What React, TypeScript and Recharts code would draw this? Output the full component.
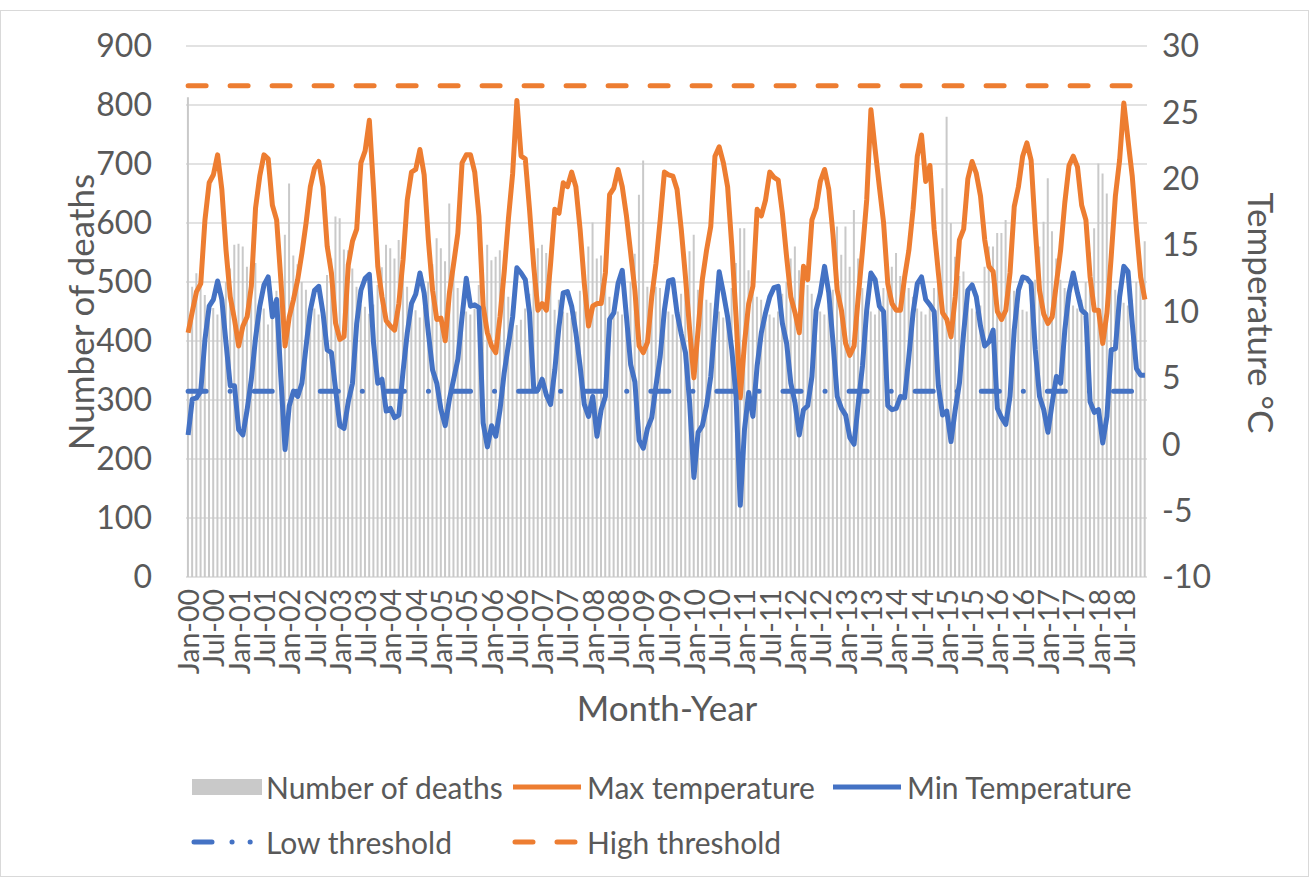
import React from "react";
import {
  ComposedChart,
  Bar,
  Line,
  XAxis,
  YAxis,
  CartesianGrid,
  Label,
} from "recharts";

const FONT = "Lato, 'Open Sans', sans-serif";
const TEXT = "#595959";
const GRID = "#D9D9D9";
const ORANGE = "#ED7D31";
const BLUE = "#4472C4";
const GREY = "#C9C9C9";
const LINE_W = 5;

const monthNames = ["Jan", "Feb", "Mar", "Apr", "May", "Jun", "Jul", "Aug", "Sep", "Oct", "Nov", "Dec"];
const yearLabels = ["00", "01", "02", "03", "04", "05", "06", "07", "08", "09", "10", "11", "12", "13", "14", "15", "16", "17", "18"];

// one row per year, Jan..Dec
const deaths = [
  813, 492, 515, 500, 478, 444, 456, 445, 460, 500, 523, 563,
  565, 560, 526, 505, 532, 470, 455, 428, 450, 485, 520, 580,
  667, 545, 530, 500, 487, 460, 455, 445, 460, 512, 540, 611,
  608, 555, 554, 523, 492, 462, 458, 446, 462, 495, 525, 563,
  557, 540, 571, 510, 492, 455, 452, 440, 458, 500, 530, 574,
  557, 535, 633, 520, 490, 460, 450, 445, 455, 495, 520, 563,
  537, 543, 554, 500, 475, 445, 427, 436, 455, 480, 520, 557,
  563, 549, 520, 453, 470, 450, 448, 440, 450, 485, 520, 560,
  601, 540, 545, 510, 475, 455, 450, 445, 460, 500, 548, 648,
  706, 492, 487, 492, 490, 455, 450, 445, 453, 480, 520, 552,
  580, 487, 510, 470, 465, 455, 450, 440, 455, 490, 532, 591,
  591, 520, 500, 475, 470, 455, 445, 440, 450, 480, 500, 540,
  560, 520, 504, 495, 480, 455, 450, 445, 460, 487, 594, 546,
  594, 526, 622, 540, 490, 460, 450, 445, 455, 490, 510, 526,
  549, 510, 505, 490, 475, 455, 450, 445, 455, 490, 520, 659,
  780, 600, 543, 510, 518, 460, 455, 450, 460, 526, 560, 560,
  583, 583, 605, 526, 485, 460, 453, 450, 460, 504, 560, 602,
  676, 586, 540, 504, 490, 470, 460, 455, 470, 500, 550, 591,
  701, 684, 650, 540, 487, 470, 465, 460, 470, 500, 530, 569,
];

const maxTemp = [
  8.4, 10.0, 11.5, 12.1, 16.9, 19.7, 20.3, 21.8, 19.2, 14.6, 11.1, 9.4,
  7.4, 8.9, 9.6, 11.9, 17.8, 20.2, 21.8, 21.5, 18.0, 16.9, 12.4, 7.4,
  9.6, 10.9, 12.4, 14.4, 16.7, 19.4, 20.8, 21.3, 19.4, 14.9, 12.9, 9.1,
  7.9, 8.1, 13.5, 15.3, 16.2, 21.2, 22.1, 24.4, 19.2, 13.4, 11.1, 9.3,
  8.9, 8.6, 10.6, 13.9, 18.4, 20.5, 20.7, 22.2, 20.3, 15.4, 11.6, 9.4,
  9.5, 7.8, 11.4, 13.6, 15.9, 21.2, 21.8, 21.8, 20.5, 17.2, 10.4, 8.4,
  7.4, 6.9, 9.6, 13.0, 17.0, 20.4, 25.9, 21.7, 21.5, 17.7, 13.4, 10.1,
  10.6, 10.1, 13.6, 17.7, 17.4, 19.7, 19.4, 20.5, 19.4, 16.2, 12.1, 8.9,
  10.4, 10.6, 10.6, 12.9, 18.8, 19.3, 20.7, 19.4, 17.2, 14.4, 11.6, 7.4,
  6.9, 7.7, 11.1, 13.6, 16.9, 20.5, 20.3, 20.2, 19.2, 16.2, 12.6, 8.6,
  5.0, 8.6, 12.4, 14.6, 16.4, 21.7, 22.4, 21.2, 19.4, 14.9, 9.6, 3.5,
  7.6, 10.6, 11.9, 17.7, 17.2, 18.4, 20.5, 20.1, 19.9, 17.4, 14.1, 11.1,
  9.9, 8.4, 13.4, 12.4, 16.9, 17.8, 19.8, 20.7, 19.2, 15.8, 11.6, 10.1,
  7.6, 6.7, 7.4, 11.1, 14.6, 18.4, 25.2, 22.2, 19.4, 16.7, 12.1, 10.6,
  10.1, 10.1, 12.6, 14.6, 17.7, 21.7, 23.3, 19.8, 21.0, 16.2, 12.9, 9.9,
  9.4, 8.1, 11.1, 15.4, 16.2, 20.0, 21.3, 20.4, 18.7, 15.4, 13.4, 13.0,
  10.0, 9.4, 10.1, 12.9, 17.9, 19.4, 21.7, 22.7, 21.4, 16.2, 11.6, 9.8,
  9.1, 9.6, 12.1, 14.6, 18.2, 21.0, 21.7, 20.9, 18.0, 16.9, 12.6, 10.1,
  10.1, 7.6, 9.9, 14.1, 18.7, 21.4, 25.7, 22.9, 20.2, 16.2, 12.6, 10.9,
];

const minTemp = [
  0.7, 3.4, 3.5, 4.0, 7.9, 10.4, 10.9, 12.3, 10.9, 7.6, 4.4, 4.4,
  1.1, 0.7, 2.6, 4.9, 8.0, 10.4, 12.0, 12.6, 9.6, 10.9, 5.1, -0.4,
  2.9, 4.0, 3.6, 4.6, 7.4, 10.1, 11.6, 11.9, 9.9, 7.1, 6.9, 4.1,
  1.4, 1.2, 3.2, 4.6, 9.1, 11.6, 12.5, 12.8, 7.6, 4.6, 4.9, 2.5,
  2.7, 2.0, 2.2, 5.5, 8.4, 10.6, 11.3, 12.9, 11.4, 8.4, 5.6, 4.6,
  2.6, 1.4, 3.4, 4.9, 6.4, 9.6, 12.5, 10.4, 10.5, 10.3, 1.6, -0.2,
  1.4, 0.6, 2.6, 5.4, 7.5, 9.6, 13.3, 12.9, 12.4, 9.9, 4.2, 4.1,
  4.9, 3.7, 3.0, 5.6, 8.9, 11.4, 11.5, 10.4, 8.4, 5.9, 3.0, 2.1,
  3.6, 0.6, 2.6, 3.6, 9.4, 9.9, 12.1, 13.1, 9.6, 6.0, 4.7, 0.3,
  -0.3, 1.2, 2.0, 4.4, 6.6, 10.1, 12.3, 12.4, 9.9, 8.3, 6.9, 3.1,
  -2.5, 0.9, 1.4, 2.9, 5.1, 9.1, 13.0, 11.4, 9.6, 7.1, 3.6, -4.6,
  1.1, 3.9, 2.1, 5.9, 8.4, 9.9, 11.1, 11.8, 11.9, 9.1, 7.6, 4.6,
  3.1, 0.7, 2.6, 2.9, 5.1, 10.1, 11.4, 13.4, 11.4, 7.7, 3.6, 2.7,
  2.2, 0.5, 0.0, 3.1, 5.9, 10.1, 12.9, 12.4, 10.4, 10.0, 2.9, 2.6,
  2.7, 3.6, 3.5, 6.6, 9.9, 12.1, 12.6, 10.9, 10.5, 10.0, 4.4, 2.2,
  2.5, 0.2, 2.6, 4.6, 8.4, 11.6, 12.0, 11.1, 8.9, 7.4, 7.7, 8.6,
  2.7, 2.0, 1.5, 3.6, 8.6, 11.6, 12.6, 12.5, 12.1, 7.1, 3.6, 2.6,
  0.9, 3.1, 5.1, 4.6, 8.6, 11.4, 12.9, 11.4, 10.1, 9.8, 3.2, 2.4,
  2.6, 0.1, 2.1, 7.1, 7.2, 11.1, 13.4, 13.0, 9.1, 5.7, 5.2, 5.2,
];

const LOW_THRESHOLD = 4;
const HIGH_THRESHOLD = 27;

const deathTicks = [0, 100, 200, 300, 400, 500, 600, 700, 800, 900];
const tempTicks = [-10, -5, 0, 5, 10, 15, 20, 25, 30];

const data = yearLabels.flatMap((yr, yi) =>
  monthNames.map((m, mi) => {
    const k = yi * 12 + mi;
    return {
      month: `${m}-${yr}`,
      deaths: deaths[k],
      maxTemp: maxTemp[k],
      minTemp: minTemp[k],
      low: LOW_THRESHOLD,
      high: HIGH_THRESHOLD,
    };
  })
);

const LOW_DASH = "18 24 0.1 24";
const HIGH_DASH = "18 24";

function MonthTick(props: any) {
  const { x, y, payload } = props;
  return (
    <text
      x={x}
      y={y}
      transform={`rotate(-90 ${x} ${y})`}
      textAnchor="end"
      dominantBaseline="central"
      fill={TEXT}
      fontSize={28.5}
      fontFamily={FONT}
    >
      {payload.value}
    </text>
  );
}

function LegendItem({ kind, label }: { kind: string; label: string }) {
  let sample: React.ReactNode = null;
  if (kind === "bar") {
    sample = <rect x={2} y={8} width={70} height={16} fill={GREY} />;
  } else {
    const color = kind === "max" || kind === "high" ? ORANGE : BLUE;
    const dash = kind === "low" ? "18 20 0.1 18 0.1 24" : kind === "high" ? HIGH_DASH : undefined;
    sample = (
      <line
        x1={dash ? 4 : 2}
        x2={70}
        y1={16}
        y2={16}
        stroke={color}
        strokeWidth={LINE_W}
        strokeDasharray={dash}
        strokeLinecap={dash ? "round" : "butt"}
      />
    );
  }
  return (
    <div style={{ display: "flex", alignItems: "center" }}>
      <svg width={76} height={32}>{sample}</svg>
      <span style={{ fontSize: 30, color: TEXT, fontFamily: FONT, whiteSpace: "nowrap" }}>{label}</span>
    </div>
  );
}

export default function App() {
  return (
    <div
      style={{
        position: "absolute",
        left: 0,
        top: 0,
        width: 1309,
        height: 877,
        background: "#fff",
        fontFamily: FONT,
      }}
    >
      <div
        style={{
          position: "absolute",
          left: 0,
          top: 10,
          width: 1307,
          height: 865,
          border: `1px solid ${GRID}`,
        }}
      />
      <div style={{ position: "absolute", left: 0, top: 0 }}>
        <ComposedChart
          width={1309}
          height={877}
          data={data}
          margin={{ top: 46, right: 0, bottom: 180, left: 0 }}
          barCategoryGap="22%"
        >
          <CartesianGrid yAxisId="deaths" vertical={false} stroke={GRID} strokeWidth={1.5} />
          <XAxis
            dataKey="month"
            interval={5}
            tick={<MonthTick />}
            tickLine={false}
            axisLine={false}
            tickSize={0}
            tickMargin={12}
            height={120}
          >
            <Label
              content={() => (
                <text x={667} y={707} textAnchor="middle" dominantBaseline="central" fill={TEXT} fontSize={35} fontFamily={FONT}>
                  Month-Year
                </text>
              )}
            />
          </XAxis>
          <YAxis
            yAxisId="deaths"
            domain={[0, 900]}
            ticks={deathTicks}
            width={186}
            axisLine={false}
            tickLine={false}
            tickSize={0}
            tickMargin={34}
            tick={{ fill: TEXT, fontSize: 32, fontFamily: FONT }}
          >
            <Label
              content={() => (
                <text x={80} y={312} transform="rotate(-90 80 312)" textAnchor="middle" dominantBaseline="central" fill={TEXT} fontSize={35} fontFamily={FONT}>
                  Number of deaths
                </text>
              )}
            />
          </YAxis>
          <YAxis
            yAxisId="temp"
            orientation="right"
            domain={[-10, 30]}
            ticks={tempTicks}
            width={162}
            axisLine={false}
            tickLine={false}
            tickSize={0}
            tickMargin={15}
            tick={{ fill: TEXT, fontSize: 32, fontFamily: FONT, textAnchor: "start" }}
          >
            <Label
              content={() => (
                <text x={1262} y={313} transform="rotate(90 1262 313)" textAnchor="middle" dominantBaseline="central" fill={TEXT} fontSize={35} fontFamily={FONT}>
                  Temperature °C
                </text>
              )}
            />
          </YAxis>
          <Bar yAxisId="deaths" dataKey="deaths" fill={GREY} isAnimationActive={false} />
          <Line yAxisId="temp" type="linear" dataKey="maxTemp" stroke={ORANGE} strokeWidth={LINE_W} strokeLinejoin="round" dot={false} activeDot={false} isAnimationActive={false} />
          <Line yAxisId="temp" type="linear" dataKey="minTemp" stroke={BLUE} strokeWidth={LINE_W} strokeLinejoin="round" dot={false} activeDot={false} isAnimationActive={false} />
          <Line yAxisId="temp" type="linear" dataKey="low" stroke={BLUE} strokeWidth={LINE_W} strokeDasharray={LOW_DASH} strokeLinecap="round" dot={false} activeDot={false} isAnimationActive={false} />
          <Line yAxisId="temp" type="linear" dataKey="high" stroke={ORANGE} strokeWidth={LINE_W} strokeDasharray={HIGH_DASH} strokeLinecap="round" dot={false} activeDot={false} isAnimationActive={false} />
        </ComposedChart>
      </div>
      <div style={{ position: "absolute", left: 190, top: 769, display: "flex" }}>
        <div style={{ width: 321 }}><LegendItem kind="bar" label="Number of deaths" /></div>
        <div style={{ width: 320 }}><LegendItem kind="max" label="Max temperature" /></div>
        <div><LegendItem kind="min" label="Min Temperature" /></div>
      </div>
      <div style={{ position: "absolute", left: 190, top: 824, display: "flex" }}>
        <div style={{ width: 321 }}><LegendItem kind="low" label="Low threshold" /></div>
        <div><LegendItem kind="high" label="High threshold" /></div>
      </div>
    </div>
  );
}
